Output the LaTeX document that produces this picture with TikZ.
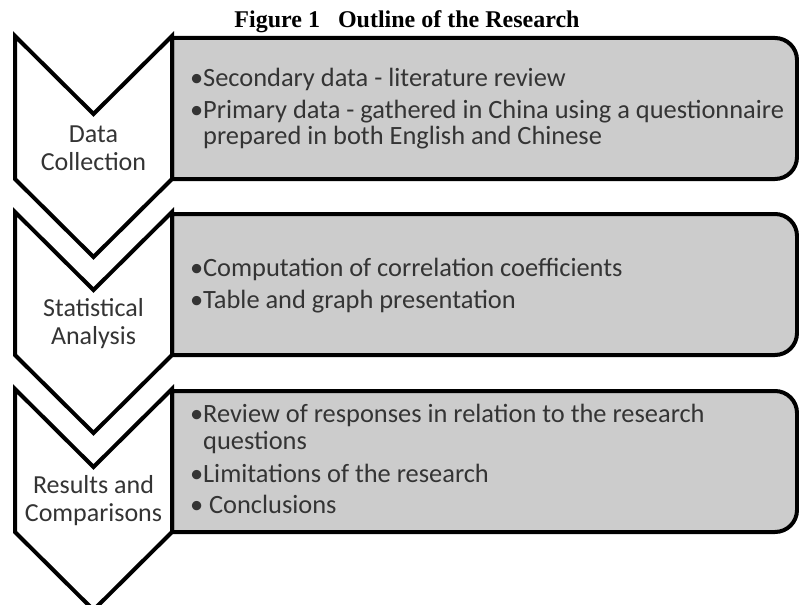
\documentclass[tikz,border=0pt]{standalone}
\usepackage{fontspec}
\setmainfont{Carlito}
\newfontfamily\titlefont{Liberation Serif}
\usepackage{tikz}
\definecolor{boxgray}{RGB}{204, 204, 204}
\definecolor{textgray}{RGB}{52, 52, 52}
\newcommand{\bul}{\textbullet}
\newcommand{\bulsp}{\phantom{\textbullet}}
\tikzset{
  chevron/.style={draw=black, fill=white, line join=miter},
  panel/.style={draw=black, fill=boxgray},
  stagelab/.style={align=center, text=textgray, inner sep=0pt, font=\fontsize{26}{28}\selectfont},
  stagetxt/.style={anchor=west, align=left, text=textgray, inner sep=0pt, font=\fontsize{26.4}{26}\selectfont},
  figtitle/.style={anchor=base, inner sep=0pt, font=\titlefont\bfseries\fontsize{24}{26}\selectfont}
}

\begin{document}
\begin{tikzpicture}[x=1pt, y=-1pt, line width=4pt]
\newcommand{\cw}{157}
\newcommand{\cd}{78}
\newcommand{\chgt}{143}
\newcommand{\bx}{797}
\useasboundingbox (0, 0) rectangle (799, 604);
\node[figtitle] (title) at (407, 28) {Figure 1\hspace{18pt}Outline of the Research};
\foreach \i / \y / \yo / \lab / \txt in {1/36/73/{Data\\Collection}/{\bul Secondary data - literature review\\[6pt]\bul Primary data - gathered in China using a questionnaire\\\bulsp prepared in both English and Chinese}, 2/212/74/{Statistical\\Analysis}/{\bul Computation of correlation coefficients\\[6pt]\bul Table and graph presentation}, 3/389/70/{Results and\\Comparisons}/{\bul Review of responses in relation to the research\\[1pt]\bulsp questions\\[7pt]\bul Limitations of the research\\[5pt]\bul\ Conclusions}} {
  \pgfmathsetmacro{\ylab}{\y+112}
  \pgfmathsetmacro{\ytxt}{\y+\yo}
  \draw[panel] (15+\cw, \y+2) -- (\bx-22, \y+2) arc[start angle=-90, end angle=0, radius=22] -- (\bx, \y+\chgt-22) arc[start angle=0, end angle=90, radius=22] -- (15+\cw, \y+\chgt) -- cycle;
  \draw[chevron] (15, \y) -- ++(\cw/2, \cd) -- ++(\cw/2, -\cd) -- ++(0, \chgt) -- ++(-\cw/2, \cd) -- ++(-\cw/2, -\cd) -- cycle;
  \path (15+\cw/2, \ylab) node[stagelab] (lab\i) {\lab};
  \path (188, \ytxt) node[stagetxt] (txt\i) {\txt};
}
\end{tikzpicture}
\end{document}
